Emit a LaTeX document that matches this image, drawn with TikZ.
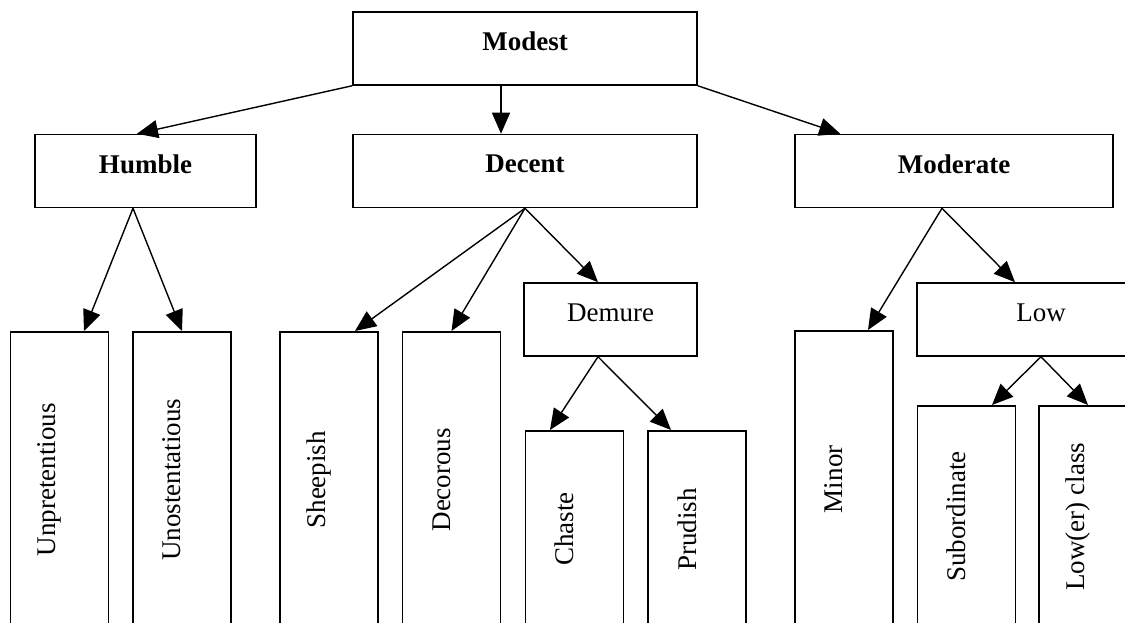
\documentclass[tikz,border=0pt]{standalone}
\usepackage{fontspec}
\setmainfont{Liberation Serif}
\usepackage{tikz}
\usetikzlibrary{arrows.meta, positioning}
\newcommand{\wordfont}{\fontsize{27}{32}\selectfont}
\newcommand{\vlabel}[1]{\rotatebox{90}{#1}\hspace*{20pt}}

\begin{document}
\begin{tikzpicture}[
  x=1pt, y=-1pt,
  hbox/.style={rectangle, draw, line width=1.5pt, inner sep=0pt,
    minimum height=73pt, text depth=14pt, font=\wordfont},
  vbox/.style={rectangle, draw, line width=1.5pt, inner sep=0pt,
    minimum width=98pt, anchor=north, font=\wordfont},
  arr/.style={-{Triangle[length=21pt, width=18pt]}, line width=1.4pt},
]
\useasboundingbox (0,0) rectangle (1125,623);
\clip (0,0) rectangle (1125,623);
% top levels
\node[hbox, minimum width=344pt] (modest)   at (525,   48.5) {\bfseries Modest};
\node[hbox, minimum width=221pt] (humble)   at (145.5, 171)  {\bfseries Humble};
\node[hbox, minimum width=344pt] (decent)   at (525,   171)  {\bfseries Decent};
\node[hbox, minimum width=318pt] (moderate) at (954,   171)  {\bfseries Moderate};
\node[hbox, minimum width=173pt] (demure)   at (610.5, 319.5) {Demure};
\node[hbox, minimum width=248pt] (low)      at (1041,  319.5) {Low};
% leaves
\node[vbox, minimum height=296pt] (unpret)  at (59.5,  331) {\vlabel{Unpretentious}};
\node[vbox, minimum height=296pt] (unost)   at (182,   331) {\vlabel{Unostentatious}};
\node[vbox, minimum height=296pt] (sheep)   at (329,   331) {\vlabel{Sheepish}};
\node[vbox, minimum height=296pt] (decor)   at (451.5, 331) {\vlabel{Decorous}};
\node[vbox, minimum height=197pt] (chaste)  at (574.5, 430) {\vlabel{Chaste}};
\node[vbox, minimum height=197pt] (prudish) at (697,   430) {\vlabel{Prudish}};
\node[vbox, minimum height=297pt] (minor)   at (844,   330) {\vlabel{Minor}};
\node[vbox, minimum height=222pt] (subord)  at (966.5, 405) {\vlabel{Subordinate}};
\node[vbox, minimum height=222pt] (lowcls)  at (1088,  405) {\vlabel{Low(er) class}};
% connectors
\draw[arr] (modest.south west) -- ([xshift=-8.5pt]humble.north);
\draw[arr] ([xshift=-24pt]modest.south) -- ([xshift=-24pt]decent.north);
\draw[arr] (modest.south east) -- ([xshift=46pt]moderate.north west);
\draw[arr] ([xshift=-12.5pt]humble.south) -- ([xshift=24.5pt]unpret.north);
\draw[arr] ([xshift=-12.5pt]humble.south) -- (unost.north);
\draw[arr] (decent.south) -- ([xshift=26pt]sheep.north);
\draw[arr] (decent.south) -- (decor.north);
\draw[arr] (decent.south) -- ([xshift=-12.5pt]demure.north);
\draw[arr] ([xshift=-12.5pt]demure.south) -- ([xshift=-24.5pt]chaste.north);
\draw[arr] ([xshift=-12.5pt]demure.south) -- ([xshift=-26pt]prudish.north);
\draw[arr] ([xshift=-12pt]moderate.south) -- ([xshift=24pt]minor.north);
\draw[arr] ([xshift=-12pt]moderate.south) -- ([xshift=-26pt]low.north);
\draw[arr] (low.south) -- ([xshift=25.5pt]subord.north);
\draw[arr] (low.south) -- (lowcls.north);
\end{tikzpicture}
\end{document}
